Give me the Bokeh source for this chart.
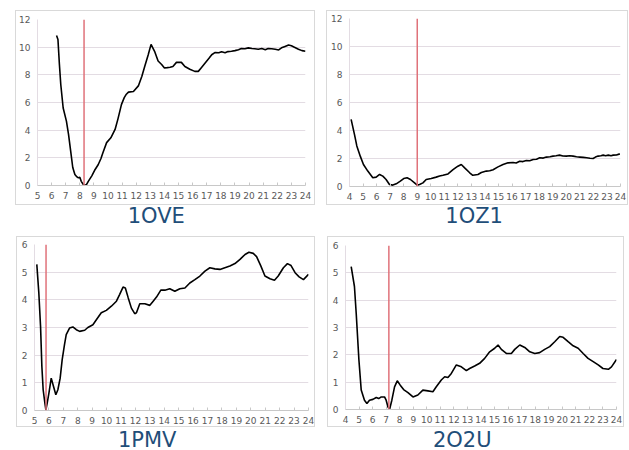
from bokeh.plotting import figure
from bokeh.layouts import row, column
from bokeh.models import Range1d, Span, Spacer, FixedTicker
from bokeh.core.properties import value
from bokeh.embed import file_html
from bokeh.resources import INLINE

# ---------------- data ----------------
names = ["1OVE", "1OZ1", "1PMV", "2O2U"]
marker_x = [8.3, 9.0, 5.8, 7.2]

x_ove = [6.35, 6.45, 6.55, 6.65, 6.82, 7.05, 7.2, 7.35, 7.5, 7.65, 7.8, 7.9, 8.0, 8.1, 8.25,
         8.45, 8.6, 8.85, 9.05, 9.3, 9.5, 9.65, 9.9, 10.2, 10.5, 10.7, 10.95, 11.15, 11.3, 11.45,
         11.8, 12.15, 12.4, 12.6, 12.85, 13.05, 13.3, 13.55, 13.8, 14.0, 14.2, 14.4, 14.6, 14.85, 15.2,
         15.45, 15.8, 16.15, 16.4, 16.6, 16.8, 17.0, 17.2, 17.35, 17.6, 17.85, 18.05, 18.3, 18.5, 18.75,
         19.0, 19.25, 19.45, 19.7, 19.95, 20.2, 20.4, 20.65, 20.9, 21.15, 21.35, 21.6, 21.85, 22.1, 22.3,
         22.55, 22.8, 23.0, 23.25, 23.5, 23.75, 24.0]
y_ove = [10.84, 10.55, 8.8, 7.3, 5.6, 4.65, 3.7, 2.5, 1.3, 0.8, 0.62, 0.55, 0.6, 0.3, 0.07,
         0.02, 0.3, 0.7, 1.1, 1.5, 1.95, 2.4, 3.1, 3.45, 4.05, 4.8, 5.85, 6.35, 6.6, 6.75,
         6.8, 7.2, 7.9, 8.6, 9.45, 10.2, 9.7, 9.0, 8.75, 8.5, 8.52, 8.55, 8.6, 8.9, 8.9,
         8.6, 8.4, 8.25, 8.25, 8.5, 8.75, 9.0, 9.25, 9.45, 9.62, 9.6, 9.67, 9.6, 9.68, 9.7,
         9.75, 9.82, 9.9, 9.88, 9.95, 9.9, 9.88, 9.85, 9.9, 9.82, 9.9, 9.88, 9.85, 9.8, 9.95,
         10.05, 10.15, 10.1, 9.98, 9.85, 9.75, 9.7]

x_ozi = [4.12, 4.37, 4.54, 4.8, 5.03, 5.35, 5.72, 5.97, 6.22, 6.46, 6.7, 6.95, 7.2, 7.45, 7.75,
         8.0, 8.25, 8.5, 8.8, 9.0, 9.17, 9.42, 9.66, 10.03, 10.4, 10.65, 10.9, 11.27, 11.64, 12.0,
         12.25, 12.5, 12.87, 13.1, 13.48, 13.73, 14.1, 14.35, 14.6, 14.96, 15.33, 15.7, 16.07, 16.3, 16.56,
         16.8, 17.05, 17.3, 17.55, 17.8, 18.04, 18.3, 18.53, 18.8, 19.02, 19.25, 19.5, 19.75, 20.0, 20.25,
         20.5, 20.75, 21.0, 21.25, 21.5, 21.75, 21.98, 22.15, 22.35, 22.55, 22.72, 22.9, 23.1, 23.3, 23.46,
         23.7, 23.95]
y_ozi = [4.79, 3.7, 2.9, 2.15, 1.57, 1.1, 0.62, 0.67, 0.86, 0.74, 0.5, 0.14, 0.1, 0.19, 0.38,
         0.57, 0.62, 0.5, 0.26, 0.1, 0.14, 0.26, 0.5, 0.57, 0.67, 0.75, 0.8, 0.9, 1.2, 1.45,
         1.57, 1.33, 0.98, 0.8, 0.86, 1.0, 1.1, 1.12, 1.2, 1.4, 1.57, 1.69, 1.71, 1.68, 1.8,
         1.78, 1.86, 1.84, 1.93, 1.95, 2.05, 2.03, 2.1, 2.12, 2.17, 2.2, 2.24, 2.18, 2.17, 2.2,
         2.17, 2.12, 2.1, 2.08, 2.05, 2.02, 2.0, 2.1, 2.17, 2.2, 2.24, 2.2, 2.24, 2.2, 2.24,
         2.25, 2.33]

x_pmv = [5.16, 5.3, 5.42, 5.51, 5.6, 5.72, 5.79, 5.88, 6.0, 6.16, 6.32, 6.48, 6.62, 6.78, 6.92,
         7.08, 7.2, 7.43, 7.66, 7.9, 8.13, 8.48, 8.7, 9.05, 9.29, 9.63, 9.98, 10.33, 10.68, 10.9,
         11.14, 11.3, 11.5, 11.72, 11.95, 12.07, 12.3, 12.65, 13.0, 13.23, 13.46, 13.76, 14.04, 14.38, 14.73,
         15.08, 15.43, 15.77, 16.12, 16.47, 16.82, 17.16, 17.51, 17.86, 18.2, 18.55, 18.9, 19.25, 19.6, 19.87,
         20.17, 20.4, 20.7, 20.98, 21.33, 21.64, 21.9, 22.26, 22.54, 22.79, 23.07, 23.35, 23.65, 24.0]
y_pmv = [5.28, 4.25, 3.04, 1.6, 0.75, 0.27, 0.02, 0.27, 0.63, 1.17, 0.87, 0.57, 0.75, 1.17, 1.84,
         2.38, 2.74, 2.98, 3.02, 2.92, 2.86, 2.9, 3.0, 3.1, 3.28, 3.53, 3.62, 3.77, 3.95, 4.19,
         4.46, 4.43, 4.07, 3.7, 3.5, 3.53, 3.86, 3.86, 3.8, 3.95, 4.1, 4.35, 4.35, 4.4, 4.31,
         4.4, 4.43, 4.61, 4.73, 4.86, 5.04, 5.16, 5.12, 5.1, 5.16, 5.22, 5.31, 5.46, 5.64, 5.72,
         5.68, 5.56, 5.22, 4.86, 4.76, 4.71, 4.86, 5.16, 5.31, 5.24, 4.98, 4.83, 4.73, 4.92]

x_o2u = [4.42, 4.66, 4.79, 4.99, 5.16, 5.4, 5.58, 5.77, 6.02, 6.27, 6.45, 6.64, 6.88, 7.0, 7.13,
         7.25, 7.42, 7.62, 7.82, 8.04, 8.29, 8.61, 8.98, 9.34, 9.71, 10.08, 10.45, 10.7, 11.07, 11.32,
         11.56, 11.81, 12.18, 12.55, 12.92, 13.16, 13.53, 13.9, 14.27, 14.64, 15.01, 15.26, 15.5, 15.87, 16.24,
         16.49, 16.86, 17.23, 17.6, 17.97, 18.33, 18.7, 19.07, 19.44, 19.81, 20.06, 20.43, 20.8, 21.17, 21.54,
         21.9, 22.28, 22.65, 23.0, 23.4, 23.63, 24.0]
y_o2u = [5.23, 4.5, 3.52, 1.81, 0.71, 0.34, 0.22, 0.34, 0.37, 0.44, 0.4, 0.46, 0.46, 0.34, 0.1,
         0.0, 0.34, 0.83, 1.05, 0.89, 0.73, 0.62, 0.46, 0.53, 0.71, 0.68, 0.65, 0.83, 1.08, 1.2,
         1.17, 1.32, 1.63, 1.56, 1.42, 1.5, 1.59, 1.69, 1.87, 2.11, 2.24, 2.36, 2.2, 2.05, 2.05,
         2.2, 2.36, 2.27, 2.11, 2.05, 2.08, 2.2, 2.3, 2.48, 2.67, 2.64, 2.48, 2.33, 2.24, 2.05,
         1.87, 1.75, 1.63, 1.5, 1.47, 1.56, 1.83]

x_ranges = [(5, 24), (4, 24), (5, 24), (4, 24)]
y_ticks_12 = [0, 2, 4, 6, 8, 10, 12]
y_ticks_6 = [0, 1, 2, 3, 4, 5, 6]

FONT = "DejaVu Sans"
LABEL_COLOR = "#595959"
TITLE_COLOR = "#1f4e79"


def chart(xs, ys, xr, yticks, mark, w, h, bl, br, bt, bb):
    p = figure(width=w, height=h, x_range=Range1d(*xr), y_range=Range1d(yticks[0], yticks[-1]),
               output_backend="svg", toolbar_location=None,
               min_border_left=bl, min_border_right=br, min_border_top=bt, min_border_bottom=bb,
               styles={"border": "1px solid #d9d9d9", "box-sizing": "border-box"})
    p.outline_line_color = None
    p.background_fill_color = "white"
    p.border_fill_color = "white"
    p.xgrid.visible = False
    p.ygrid.grid_line_color = "#e3dce3"
    p.ygrid.grid_line_width = 1
    p.xaxis.ticker = FixedTicker(ticks=list(range(xr[0], xr[1] + 1)))
    p.yaxis.ticker = FixedTicker(ticks=yticks)
    p.xaxis.axis_line_color = "#c8c8c8"
    p.xaxis.major_tick_line_color = "#c8c8c8"
    p.xaxis.major_tick_in = 3
    p.xaxis.major_tick_out = 0
    p.xaxis.minor_tick_line_color = None
    p.xaxis.minor_tick_in = 0
    p.xaxis.minor_tick_out = 0
    p.xaxis.major_label_standoff = 6
    p.yaxis.axis_line_color = "#e3dce3"
    p.yaxis.major_tick_line_color = None
    p.yaxis.major_tick_in = 0
    p.yaxis.major_tick_out = 0
    p.yaxis.minor_tick_line_color = None
    p.yaxis.minor_tick_in = 0
    p.yaxis.minor_tick_out = 0
    p.yaxis.major_label_standoff = 7
    for ax in (p.xaxis, p.yaxis):
        ax.major_label_text_font = FONT
        ax.major_label_text_font_size = "9px"
        ax.major_label_text_color = LABEL_COLOR
    p.add_layout(Span(location=mark, dimension="height", line_color="#e0727a", line_width=1.5))
    p.line(xs, ys, line_color="black", line_width=1.6)
    return p


def title_fig(text, w, h, cx, cy):
    t = figure(width=w, height=h, x_range=Range1d(0, w), y_range=Range1d(0, h),
               output_backend="svg", toolbar_location=None,
               x_axis_location=None, y_axis_location=None,
               min_border_left=0, min_border_right=0, min_border_top=0, min_border_bottom=0)
    t.grid.visible = False
    t.outline_line_color = None
    t.text(x=[cx], y=[cy], text=[text], text_font=value(FONT), text_font_size="21px",
           text_color=TITLE_COLOR, text_align="center", text_baseline="middle")
    return t


c1 = chart(x_ove, y_ove, x_ranges[0], y_ticks_12, marker_x[0], 300, 195, 21, 11, 8, 21)
c2 = chart(x_ozi, y_ozi, x_ranges[1], y_ticks_12, marker_x[1], 302, 195, 22, 9, 7, 20)
c3 = chart(x_pmv, y_pmv, x_ranges[2], y_ticks_6, marker_x[2], 299, 191, 17, 8, 7, 18)
c4 = chart(x_o2u, y_o2u, x_ranges[3], y_ticks_6, marker_x[3], 297, 191, 17, 9, 8, 19)

t1 = title_fig(names[0], 300, 31, 134, 20.5)
t2 = title_fig(names[1], 302, 31, 140, 20.5)
t3 = title_fig(names[2], 299, 23, 124, 11)
t4 = title_fig(names[3], 297, 23, 129, 11)

top = row(Spacer(width=15), column(c1, t1), Spacer(width=11), column(c2, t2))
bottom = row(Spacer(width=16), column(c3, t3), Spacer(width=12), column(c4, t4))
page = column(Spacer(height=10), top, bottom)

open("out.html", "w").write(file_html(page, INLINE))
